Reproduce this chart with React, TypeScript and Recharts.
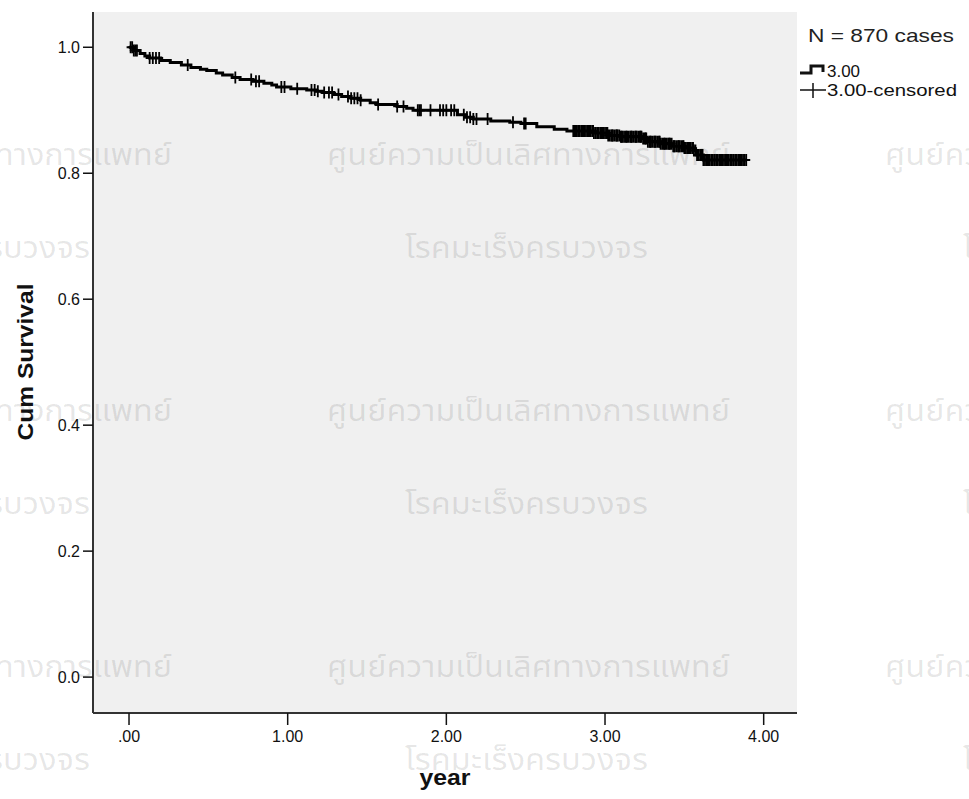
import React from 'react';
import {
  ComposedChart, Line, Scatter, XAxis, YAxis, CartesianGrid,
} from 'recharts';

// Kaplan-Meier step points (time in years, cumulative survival)
const eventYears = [
  0, 0.03, 0.07, 0.1, 0.13, 0.2, 0.26, 0.33, 0.39, 0.45, 0.49, 0.55, 0.59, 0.65,
  0.7, 0.78, 0.85, 0.9, 0.93, 1.02, 1.12, 1.18, 1.22, 1.29, 1.34, 1.4, 1.46, 1.52,
  1.56, 1.69, 1.75, 1.79, 2.07, 2.12, 2.17, 2.28, 2.4, 2.47, 2.57, 2.68, 2.76,
  2.93, 3.02, 3.1, 3.24, 3.27, 3.35, 3.43, 3.5, 3.56, 3.58, 3.62, 3.89,
];
const survival = [
  1.0, 0.995, 0.99, 0.986, 0.983, 0.979, 0.976, 0.972, 0.968, 0.965, 0.963, 0.959, 0.956, 0.952,
  0.949, 0.946, 0.943, 0.94, 0.937, 0.934, 0.932, 0.93, 0.928, 0.925, 0.922, 0.919, 0.916, 0.912,
  0.909, 0.906, 0.903, 0.9, 0.893, 0.889, 0.886, 0.883, 0.881, 0.879, 0.874, 0.87, 0.867,
  0.864, 0.86, 0.858, 0.855, 0.85, 0.847, 0.843, 0.84, 0.836, 0.829, 0.821, 0.821,
];

// censored observations (years)
const censoredYears = [
  0.01, 0.02, 0.03, 0.04, 0.05, 0.13, 0.15, 0.17, 0.19, 0.37, 0.67, 0.77, 0.8, 0.82,
  0.96, 0.98, 1.06, 1.15, 1.17, 1.19, 1.23, 1.26, 1.28, 1.32, 1.38, 1.4, 1.42, 1.44,
  1.46, 1.57, 1.69, 1.73, 1.82, 1.83, 1.84, 1.9, 1.96, 1.98, 2.0, 2.03, 2.05, 2.11,
  2.13, 2.15, 2.17, 2.19, 2.26, 2.42, 2.49, 2.5,
  2.8, 2.81, 2.815, 2.82, 2.83, 2.835, 2.84, 2.85, 2.86, 2.865, 2.87, 2.88, 2.89, 2.895,
  2.9, 2.91, 2.92, 2.925, 2.93, 2.94, 2.95, 2.955, 2.96, 2.97, 2.98, 2.985, 2.99, 3.0,
  3.01, 3.015, 3.02, 3.03, 3.04, 3.045, 3.05, 3.06, 3.07, 3.075, 3.08, 3.09, 3.1, 3.105,
  3.11, 3.12, 3.13, 3.135, 3.14, 3.15, 3.16, 3.165, 3.17, 3.18, 3.19, 3.195, 3.2, 3.21,
  3.22, 3.225, 3.23, 3.24, 3.25, 3.255, 3.26, 3.27, 3.28, 3.285, 3.29, 3.3, 3.31, 3.315,
  3.32, 3.33, 3.34, 3.345, 3.35, 3.36, 3.37, 3.375, 3.38, 3.39, 3.4, 3.405, 3.41, 3.42,
  3.43, 3.435, 3.44, 3.45, 3.46, 3.465, 3.47, 3.48, 3.49, 3.495, 3.5, 3.51, 3.52, 3.525,
  3.53, 3.54, 3.55, 3.555, 3.56, 3.57, 3.58, 3.585, 3.59, 3.6, 3.61, 3.615, 3.62, 3.63,
  3.64, 3.645, 3.65, 3.66, 3.67, 3.675, 3.68, 3.69, 3.7, 3.705, 3.71, 3.72, 3.73, 3.735,
  3.74, 3.75, 3.76, 3.765, 3.77, 3.78, 3.79, 3.795, 3.8, 3.81, 3.82, 3.825, 3.83, 3.84,
  3.85, 3.855, 3.86, 3.87, 3.88, 3.89,
];

const xTicks = [0, 1, 2, 3, 4];
const yTicks = [0, 0.2, 0.4, 0.6, 0.8, 1.0];
const caseCount = 870;
const groupLabel = '3.00';

const kmData = eventYears.map((year, i) => ({ year, surv: survival[i] }));

const survivalAt = (t: number) => {
  let s = survival[0];
  for (let i = 0; i < eventYears.length; i++) {
    if (eventYears[i] <= t) s = survival[i];
  }
  return s;
};
const censorData = censoredYears.map((year) => ({ year, surv: survivalAt(year) }));

const FONT = '"Liberation Sans", Arial, sans-serif';
const THAI = '"Noto Sans Thai", "Noto Sans", "DejaVu Sans", sans-serif';

const CensorMark = (props: any) => {
  const { cx, cy } = props;
  if (cx == null || cy == null) return null;
  return (
    <path
      d={`M${cx - 4},${cy}H${cx + 4}M${cx},${cy - 6}V${cy + 6}`}
      stroke="#000"
      strokeWidth={1.8}
      fill="none"
    />
  );
};

const wmTop = [165, 421, 677];
const wmBottom = [258, 514, 770];
const wmTopX = [-231, 327, 885];
const wmBottomX = [-153, 405, 963];

const App = () => {
  const tickStyle = { fill: '#111', fontSize: 16, fontFamily: FONT };
  return (
    <div style={{ position: 'absolute', left: 0, top: 0, width: 969, height: 799, background: '#fff' }}>
      <ComposedChart
        width={969}
        height={799}
        margin={{ top: 12, right: 172, bottom: 0, left: 0 }}
      >
        <CartesianGrid fill="#f0f0f0" horizontal={false} vertical={false} />
        <XAxis
          dataKey="year"
          type="number"
          domain={[-0.227, 4.21]}
          ticks={xTicks}
          allowDataOverflow
          height={86}
          tickSize={12}
          tickMargin={6}
          tick={tickStyle}
          axisLine={{ stroke: '#333', strokeWidth: 2 }}
          tickLine={{ stroke: '#111', strokeWidth: 1.5 }}
          tickFormatter={(v: number) => (v === 0 ? '.00' : v.toFixed(2))}
        />
        <XAxis
          xAxisId="top"
          orientation="top"
          type="number"
          domain={[-0.227, 4.21]}
          height={0}
          tick={false}
          tickLine={false}
          axisLine={{ stroke: '#555', strokeWidth: 2 }}
        />
        <YAxis
          type="number"
          domain={[-0.057, 1.056]}
          ticks={yTicks}
          allowDataOverflow
          width={93}
          tickSize={10}
          tickMargin={3}
          tick={tickStyle}
          axisLine={{ stroke: '#333', strokeWidth: 2 }}
          tickLine={{ stroke: '#111', strokeWidth: 1.5 }}
          tickFormatter={(v: number) => v.toFixed(1)}
        />
        <YAxis
          yAxisId="right"
          orientation="right"
          type="number"
          domain={[-0.057, 1.056]}
          width={0}
          tick={false}
          tickLine={false}
          axisLine={{ stroke: '#555', strokeWidth: 2 }}
        />
        <Line
          data={kmData}
          dataKey="surv"
          type="stepAfter"
          stroke="#000"
          strokeWidth={3}
          dot={false}
          isAnimationActive={false}
        />
        <Scatter
          data={censorData}
          dataKey="surv"
          shape={CensorMark}
          isAnimationActive={false}
        />
      </ComposedChart>

      <svg
        width={969}
        height={799}
        style={{ position: 'absolute', left: 0, top: 0, pointerEvents: 'none' }}
      >
        {wmTop.map((y) =>
          wmTopX.map((x) => (
            <text key={`a${x}-${y}`} x={x} y={y} fontFamily={THAI} fontSize={30}
              fill="#000" fillOpacity={0.1} textLength={403} lengthAdjust="spacingAndGlyphs">
              ศูนย์ความเป็นเลิศทางการแพทย์
            </text>
          ))
        )}
        {wmBottom.map((y) =>
          wmBottomX.map((x) => (
            <text key={`b${x}-${y}`} x={x} y={y} fontFamily={THAI} fontSize={30}
              fill="#000" fillOpacity={0.1} textLength={243} lengthAdjust="spacingAndGlyphs">
              โรคมะเร็งครบวงจร
            </text>
          ))
        )}

        <text x={25} y={362} transform="rotate(-90 25 362)" textAnchor="middle"
          dominantBaseline="central" fontFamily={FONT} fontWeight="bold" fontSize={22}
          textLength={157} lengthAdjust="spacingAndGlyphs" fill="#111">
          Cum Survival
        </text>
        <text x={445} y={785} textAnchor="middle" fontFamily={FONT} fontWeight="bold"
          fontSize={22} textLength={51} lengthAdjust="spacingAndGlyphs" fill="#111">
          year
        </text>

        <text x={808} y={42} fontFamily={FONT} fontSize={19} textLength={146}
          lengthAdjust="spacingAndGlyphs" fill="#222">
          N = {caseCount} cases
        </text>
        <path d="M800,73H811V66H823V72" stroke="#111" strokeWidth={3} fill="none" />
        <text x={827} y={77} fontFamily={FONT} fontSize={16} textLength={33}
          lengthAdjust="spacingAndGlyphs" fill="#111">{groupLabel}</text>
        <path d="M800,90H826M813,83V98" stroke="#111" strokeWidth={1.5} fill="none" />
        <text x={827} y={96} fontFamily={FONT} fontSize={16} textLength={130}
          lengthAdjust="spacingAndGlyphs" fill="#111">{groupLabel}-censored</text>
      </svg>
    </div>
  );
};

export default App;
